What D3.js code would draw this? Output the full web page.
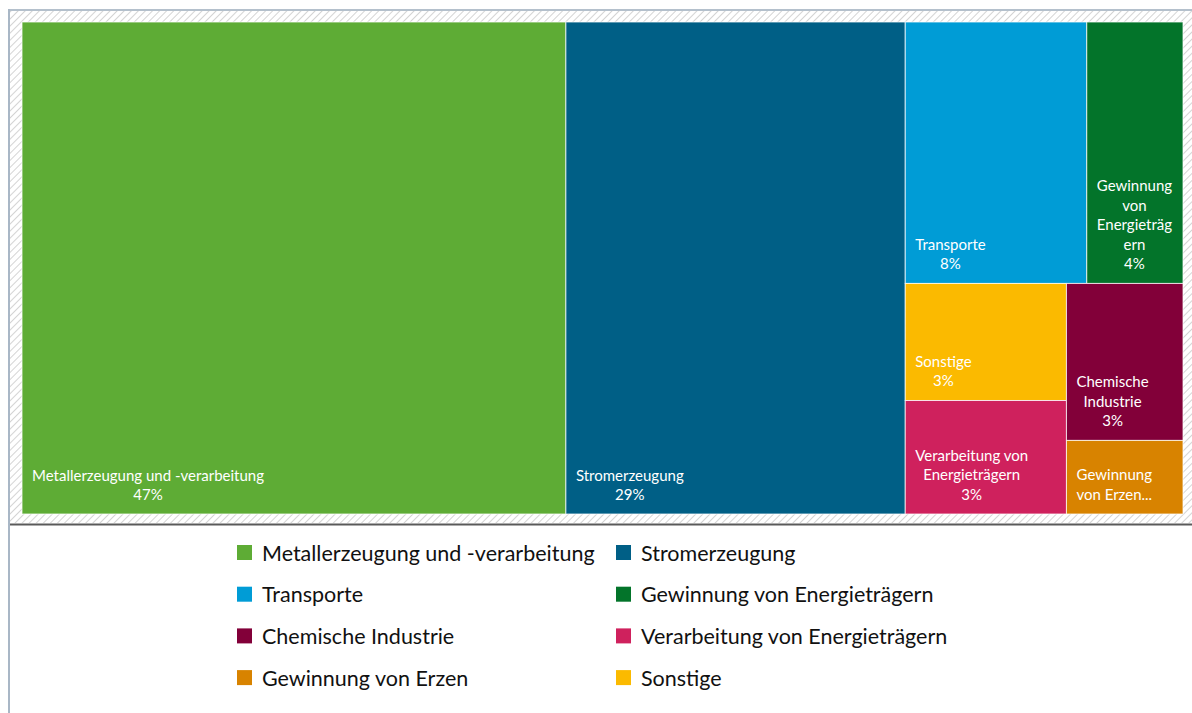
<!DOCTYPE html>
<html>
<head>
<meta charset="utf-8">
<script src="https://cdn.jsdelivr.net/npm/d3@7"></script>
<style>
  body { margin: 0; background: #fff; }
  svg { display: block; }
</style>
</head>
<body>
<div id="chart"></div>
<script>
// data (layout order = order of the tiles)
const categories = [
  'Metallerzeugung und -verarbeitung',
  'Stromerzeugung',
  'Transporte',
  'Gewinnung von Energieträgern',
  'Sonstige',
  'Verarbeitung von Energieträgern',
  'Chemische Industrie',
  'Gewinnung von Erzen'
];
const shares = [46.8, 29.2, 8.3, 4.4, 3.3, 3.2, 3.2, 1.5];
const colors = ['#5eac35', '#005f86', '#009cd6', '#03742a', '#fbba00', '#cf215d', '#820039', '#d88300'];
const legendOrder = [
  'Metallerzeugung und -verarbeitung', 'Stromerzeugung',
  'Transporte', 'Gewinnung von Energieträgern',
  'Chemische Industrie', 'Verarbeitung von Energieträgern',
  'Gewinnung von Erzen', 'Sonstige'
];

const W = 1192, H = 713;
const plot = { x0: 22, y0: 22, x1: 1183, y1: 514 };
const font = 'Lato, "Open Sans", sans-serif';
const labelSize = 15;

const color = d3.scaleOrdinal().domain(categories).range(colors);

const svg = d3.select('#chart').append('svg')
  .attr('width', W)
  .attr('height', H);

// hatched frame behind the treemap
const defs = svg.append('defs');
const pat = defs.append('pattern')
  .attr('id', 'hatch')
  .attr('patternUnits', 'userSpaceOnUse')
  .attr('width', 5)
  .attr('height', 5)
  .attr('patternTransform', 'rotate(45)');
pat.append('rect').attr('width', 5).attr('height', 5).attr('fill', '#fff');
pat.append('line')
  .attr('x1', 0).attr('y1', 0).attr('x2', 0).attr('y2', 5)
  .attr('stroke', '#d4d4d4')
  .attr('stroke-width', 2);

svg.append('rect')
  .attr('x', 9).attr('y', 10)
  .attr('width', W - 9).attr('height', 513)
  .attr('fill', 'url(#hatch)');

// frame lines
svg.append('line')
  .attr('x1', 9).attr('x2', W).attr('y1', 10).attr('y2', 10)
  .attr('stroke', '#b4c0cc').attr('stroke-width', 2);
svg.append('line')
  .attr('x1', 9).attr('x2', 9).attr('y1', 9).attr('y2', H)
  .attr('stroke', '#a9b7c6').attr('stroke-width', 2);
svg.append('line')
  .attr('x1', 10).attr('x2', W).attr('y1', 524.5).attr('y2', 524.5)
  .attr('stroke', '#5a5a5a').attr('stroke-width', 2);

// treemap
const root = d3.hierarchy({ children: categories.map((c, i) => ({ name: c, value: shares[i] })) })
  .sum(d => d.value || 0);

d3.treemap()
  .tile(d3.treemapBinary)
  .size([plot.x1 - plot.x0, plot.y1 - plot.y0])(root);

const g = svg.append('g')
  .attr('transform', `translate(${plot.x0},${plot.y0})`);

const cells = g.selectAll('g.cell')
  .data(root.leaves())
  .join('g')
  .attr('class', 'cell')
  .attr('transform', d => `translate(${d.x0},${d.y0})`);

cells.append('rect')
  .attr('width', d => d.x1 - d.x0)
  .attr('height', d => d.y1 - d.y0)
  .attr('fill', d => color(d.data.name))
  .attr('stroke', 'rgba(255,255,255,0.75)')
  .attr('stroke-width', 1);

// text measuring helper
const measure = svg.append('text')
  .attr('font-family', font)
  .attr('font-size', labelSize)
  .attr('visibility', 'hidden');
function textWidth(s) {
  measure.text(s);
  return measure.node().getComputedTextLength();
}

function wrap(text, maxW) {
  const words = text.split(' ');
  const lines = [];
  let cur = '';
  words.forEach(w => {
    const test = cur ? cur + ' ' + w : w;
    if (textWidth(test) <= maxW) {
      cur = test;
    } else {
      if (cur) lines.push(cur);
      // break long words
      let word = w;
      while (textWidth(word) > maxW) {
        let k = word.length;
        while (k > 1 && textWidth(word.slice(0, k)) > maxW) k--;
        lines.push(word.slice(0, k));
        word = word.slice(k);
      }
      cur = word;
    }
  });
  if (cur) lines.push(cur);
  return lines;
}

const lineH = 19.5, pad = 10;
cells.each(function(d) {
  const w = d.x1 - d.x0, h = d.y1 - d.y0;
  let lines = wrap(d.data.name, w - 2 * pad + 2);
  lines.push(Math.round(d.value) + '%');
  const maxLines = Math.floor((h - 2 * pad - 4) / lineH);
  if (lines.length > maxLines) {
    lines = lines.slice(0, maxLines);
    lines[maxLines - 1] = lines[maxLines - 1] + '...';
  }
  const blockW = d3.max(lines, l => textWidth(l));
  const cx = Math.min(pad + blockW / 2, w / 2);
  const bottom = h - pad - 4;
  const t = d3.select(this).append('text')
    .attr('font-family', font)
    .attr('font-size', labelSize)
    .attr('fill', '#fff')
    .attr('text-anchor', 'middle');
  lines.forEach((l, i) => {
    t.append('tspan')
      .attr('x', cx)
      .attr('y', bottom - (lines.length - 1 - i) * lineH)
      .text(l);
  });
});
measure.remove();

// legend
const legend = svg.append('g')
  .attr('transform', 'translate(237, 553)');
const legendCols = [0, 379];
const item = legend.selectAll('g.item')
  .data(legendOrder)
  .join('g')
  .attr('class', 'item')
  .attr('transform', (d, i) => `translate(${legendCols[i % 2]}, ${Math.floor(i / 2) * 41.7})`);

item.append('rect')
  .attr('x', 0).attr('y', -8)
  .attr('width', 15).attr('height', 15)
  .attr('fill', d => color(d));

item.append('text')
  .attr('x', 25)
  .attr('y', 7.5)
  .attr('font-family', font)
  .attr('font-size', 21.5)
  .attr('fill', '#111')
  .text(d => d);
</script>
</body>
</html>
